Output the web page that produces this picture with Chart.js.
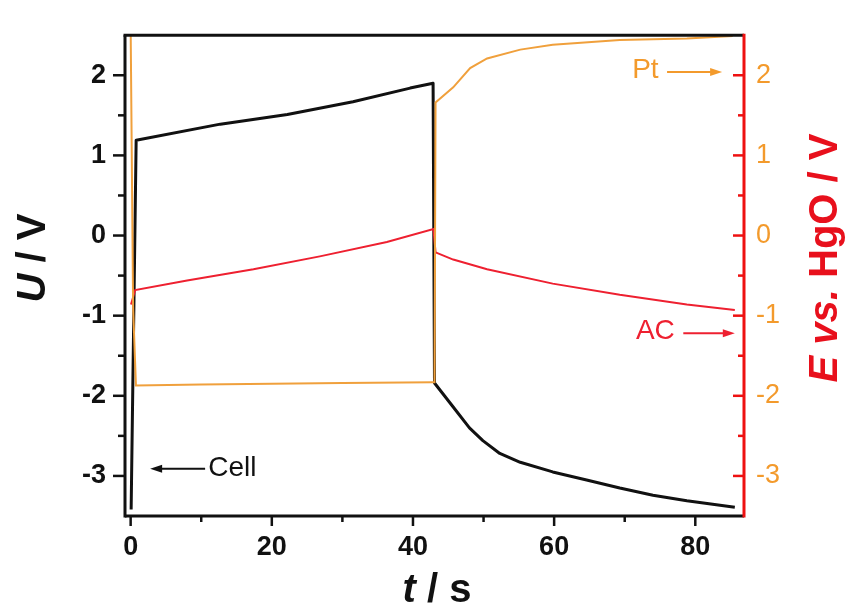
<!DOCTYPE html>
<html><head><meta charset="utf-8">
<script src="https://cdn.jsdelivr.net/npm/chart.js@4.4.0/dist/chart.umd.min.js"></script>
<style>html,body{margin:0;padding:0;background:#fff;}#wrap{width:847px;height:608px;}</style>
</head><body><div id="wrap"><canvas id="c" width="847" height="608"></canvas></div>
<script>
// ---- data ----
const cellT = [0.07, 0.78, 12.7, 22.2, 31.5, 39.6, 42.85, 43.05, 45.7, 48.0, 49.9, 52.3, 55.2, 59.8, 64.6, 69.3, 74.0, 78.8, 85.6];
const cellU = [-3.42, 1.19, 1.39, 1.51, 1.67, 1.84, 1.90, -1.84, -2.14, -2.40, -2.56, -2.72, -2.83, -2.95, -3.05, -3.15, -3.24, -3.31, -3.39];

const acT = [0.05, 0.64, 8.0, 17.4, 26.8, 36.3, 42.9, 43.2, 45.7, 50.5, 59.8, 69.3, 78.8, 85.6];
const acE = [-0.86, -0.68, -0.56, -0.42, -0.26, -0.08, 0.08, -0.21, -0.30, -0.42, -0.60, -0.74, -0.86, -0.93];

const ptT = [0.0, 0.35, 0.75, 10, 20, 30, 42.9, 43.05, 43.2, 45.7, 48.1, 50.5, 55.2, 59.8, 69.3, 78.8, 85.3];
const ptE = [2.6, -0.9, -1.87, -1.86, -1.85, -1.84, -1.83, -1.83, 1.66, 1.85, 2.09, 2.21, 2.32, 2.38, 2.44, 2.46, 2.49];

const xTicks = [0, 20, 40, 60, 80];
const xMinor = [10, 30, 50, 70];
const uTicks = [-3, -2, -1, 0, 1, 2];
const uMinor = [-2.5, -1.5, -0.5, 0.5, 1.5];
const eTicks = [-3, -2, -1, 0, 1, 2];
const eMinor = [-2.5, -1.5, -0.5, 0.5, 1.5];

const BLACK = '#111111', RED = '#ee2030', AXRED = '#ee1111', ORANGE = '#f0a03c', ORTXT = '#f39a2c';

const pts = (xs, ys) => xs.map((v, i) => ({x: v, y: ys[i]}));

const fixTicks = arr => (scale) => { scale.ticks = arr.map(v => ({value: v})); };

const framePlugin = {
  id: 'frame',
  afterDatasetsDraw(chart) {
    const {ctx, chartArea: a, scales} = chart;
    ctx.save();
    ctx.lineCap = 'butt';
    const seg = (x1, y1, x2, y2, c, w) => { ctx.strokeStyle = c; ctx.lineWidth = w; ctx.beginPath(); ctx.moveTo(x1, y1); ctx.lineTo(x2, y2); ctx.stroke(); };
    uTicks.forEach(v => { const p = scales.y.getPixelForValue(v); seg(a.left, p, a.left - 12, p, BLACK, 2.5); });
    uMinor.forEach(v => { const p = scales.y.getPixelForValue(v); seg(a.left, p, a.left - 7, p, BLACK, 2.5); });
    eTicks.forEach(v => { const p = scales.y2.getPixelForValue(v); seg(a.right, p, a.right - 11, p, AXRED, 2.5); });
    eMinor.forEach(v => { const p = scales.y2.getPixelForValue(v); seg(a.right, p, a.right - 6, p, AXRED, 2.5); });
    xTicks.forEach(v => { const p = scales.x.getPixelForValue(v); seg(p, a.bottom, p, a.bottom + 10, BLACK, 2.5); });
    xMinor.forEach(v => { const p = scales.x.getPixelForValue(v); seg(p, a.bottom, p, a.bottom + 6, BLACK, 2.5); });
    // frame
    seg(a.left - 1.5, a.top, a.right, a.top, BLACK, 3);
    seg(a.left, a.top, a.left, a.bottom + 1.5, BLACK, 3);
    seg(a.left, a.bottom, a.right, a.bottom, BLACK, 3);
    seg(a.right, a.top - 1.5, a.right, a.bottom + 1.5, AXRED, 3);
    ctx.restore();
  },
  afterDraw(chart) {
    const {ctx, chartArea: a, scales} = chart;
    ctx.save();
    const mixed = (parts, cx, cy, rot, color) => {
      ctx.save();
      ctx.translate(cx, cy);
      ctx.rotate(rot);
      ctx.fillStyle = color;
      ctx.textBaseline = 'alphabetic';
      ctx.textAlign = 'left';
      let total = 0;
      parts.forEach(p => { ctx.font = p.f; total += ctx.measureText(p.t).width; });
      let x = -total / 2;
      parts.forEach(p => { ctx.font = p.f; ctx.fillText(p.t, x, 0); x += ctx.measureText(p.t).width; });
      ctx.restore();
    };
    const B = 'bold 40px "Liberation Sans", Arial, sans-serif';
    const BI = 'italic bold 40px "Liberation Sans", Arial, sans-serif';
    mixed([{t: 'U', f: BI}, {t: ' / V', f: B}], 45, 258, -Math.PI / 2, BLACK);
    mixed([{t: 't', f: BI}, {t: ' / s', f: B}], 437, 602, 0, BLACK);
    mixed([{t: 'E vs.', f: BI}, {t: ' HgO / V', f: B}], 837, 258, -Math.PI / 2, '#e8101c');

    const arrow = (x1, x2, y, c) => {
      ctx.strokeStyle = c; ctx.fillStyle = c; ctx.lineWidth = 2;
      const dir = Math.sign(x2 - x1);
      ctx.beginPath(); ctx.moveTo(x1, y); ctx.lineTo(x2 - dir * 8, y); ctx.stroke();
      ctx.beginPath(); ctx.moveTo(x2, y); ctx.lineTo(x2 - dir * 12, y - 4); ctx.lineTo(x2 - dir * 12, y + 4); ctx.closePath(); ctx.fill();
    };
    const X = v => scales.x.getPixelForValue(v);
    const Y = v => scales.y.getPixelForValue(v);
    const Y2 = v => scales.y2.getPixelForValue(v);
    ctx.font = '28px "Liberation Sans", Arial, sans-serif';
    ctx.textBaseline = 'middle';
    ctx.fillStyle = BLACK; ctx.textAlign = 'left';
    ctx.fillText('Cell', X(11.0), Y(-2.91));
    arrow(X(10.55), X(2.76), Y(-2.91), BLACK);
    ctx.fillStyle = ORTXT; ctx.textAlign = 'right';
    ctx.fillText('Pt', X(74.8), Y2(2.06));
    arrow(X(76.0), X(83.8), Y2(2.04), ORTXT);
    ctx.fillStyle = RED; ctx.textAlign = 'right';
    ctx.fillText('AC', X(77.1), Y2(-1.2));
    arrow(X(78.3), X(85.6), Y2(-1.22), RED);
    ctx.restore();
  }
};

new Chart(document.getElementById('c'), {
  type: 'scatter',
  data: {
    datasets: [
      {label: 'Pt', data: pts(ptT, ptE), yAxisID: 'y2', showLine: true, borderColor: ORANGE, borderWidth: 2, pointRadius: 0, tension: 0},
      {label: 'AC', data: pts(acT, acE), yAxisID: 'y2', showLine: true, borderColor: RED, borderWidth: 2, pointRadius: 0, tension: 0},
      {label: 'Cell', data: pts(cellT, cellU), yAxisID: 'y', showLine: true, borderColor: BLACK, borderWidth: 3, pointRadius: 0, tension: 0, borderJoinStyle: 'round'}
    ]
  },
  options: {
    responsive: false,
    animation: false,
    devicePixelRatio: 1,
    layout: {padding: {top: 18, left: 0, right: 0, bottom: 0}},
    plugins: {legend: {display: false}, tooltip: {enabled: false}},
    scales: {
      x: {
        type: 'linear', position: 'bottom', min: -0.8, max: 86.9,
        afterBuildTicks: fixTicks(xTicks),
        afterFit: s => { s.height = 92; },
        grid: {display: false, drawTicks: false}, border: {display: false},
        ticks: {padding: 15, color: BLACK, font: {family: '"Liberation Sans", Arial, sans-serif', size: 27, weight: 'bold'}, maxRotation: 0}
      },
      y: {
        type: 'linear', position: 'left', min: -3.5, max: 2.5,
        afterBuildTicks: fixTicks(uTicks),
        afterFit: s => { s.width = 125; },
        grid: {display: false, drawTicks: false}, border: {display: false},
        ticks: {padding: 19, color: BLACK, font: {family: '"Liberation Sans", Arial, sans-serif', size: 27, weight: 'bold'}}
      },
      y2: {
        type: 'linear', position: 'right', min: -3.5, max: 2.5,
        afterBuildTicks: fixTicks(eTicks),
        afterFit: s => { s.width = 103; },
        grid: {display: false, drawTicks: false}, border: {display: false},
        ticks: {padding: 12, color: ORTXT, font: {family: '"Liberation Sans", Arial, sans-serif', size: 27, weight: 'normal'}}
      }
    }
  },
  plugins: [framePlugin]
});
</script>
</body></html>
